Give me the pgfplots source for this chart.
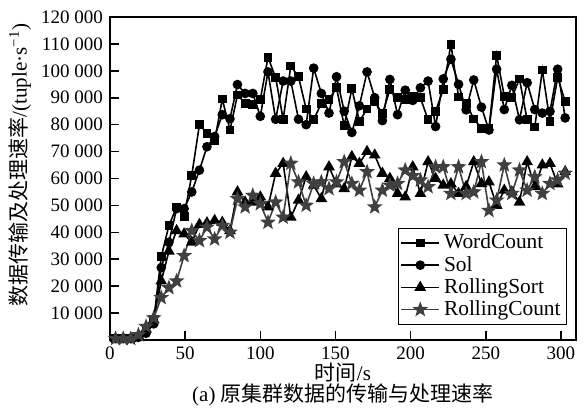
\documentclass[border=0pt]{standalone}
\usepackage{fontspec}
\setmainfont{Liberation Serif}
\newfontfamily\cjk{Noto Sans CJK SC}
\usepackage{pgfplots}
\usepackage{pgfplotstable}
\pgfplotsset{compat=1.18}
\definecolor{rcgray}{HTML}{404040}
\pgfdeclareplotmark{fstar}{%
  \pgfpathmoveto{\pgfpointpolar{90}{\pgfplotmarksize}}%
  \pgfpathlineto{\pgfpointpolar{126}{0.42\pgfplotmarksize}}%
  \pgfpathlineto{\pgfpointpolar{162}{\pgfplotmarksize}}%
  \pgfpathlineto{\pgfpointpolar{198}{0.42\pgfplotmarksize}}%
  \pgfpathlineto{\pgfpointpolar{234}{\pgfplotmarksize}}%
  \pgfpathlineto{\pgfpointpolar{270}{0.42\pgfplotmarksize}}%
  \pgfpathlineto{\pgfpointpolar{306}{\pgfplotmarksize}}%
  \pgfpathlineto{\pgfpointpolar{342}{0.42\pgfplotmarksize}}%
  \pgfpathlineto{\pgfpointpolar{18}{\pgfplotmarksize}}%
  \pgfpathlineto{\pgfpointpolar{54}{0.42\pgfplotmarksize}}%
  \pgfpathclose
  \pgfusepathqfillstroke
}
\pgfplotstableread{
t W S R C
3.7 500 500 500 500
8.8 500 500 500 500
13.8 500 500 500 500
18.9 1500 1000 1500 1900
24.0 3500 2500 4000 5000
29.1 7500 6000 7500 8200
34.1 31000 26900 21900 15700
39.2 42500 36300 33000 19400
44.3 49400 48800 40600 21900
49.3 46000 48800 39400 31300
54.4 61200 55000 36300 40600
59.5 80000 63100 42900 36900
64.5 76800 71800 43500 41900
69.6 74000 75600 44400 37500
74.7 89500 83700 43700 42500
79.8 78000 82200 40600 40000
84.8 91000 94900 55000 52500
89.9 88000 91600 51200 49400
95.0 87500 91600 51200 53700
100.0 89300 83100 53100 50600
105.1 105000 99600 49400 43700
110.2 97500 82000 61900 51200
115.2 82000 96200 65600 45600
120.3 101800 96200 45600 65600
125.4 97800 82000 51900 58700
130.5 85800 80000 60600 50000
135.5 82000 101000 57500 58100
140.6 87800 91600 52500 58700
145.7 89300 84300 64300 56200
150.7 93700 97800 58000 58700
155.8 79600 85000 56200 66200
160.9 93300 77100 68100 58100
165.9 81200 87000 65600 55600
171.0 85800 99600 70000 62500
176.1 88700 90000 68700 49400
181.2 84000 81500 61900 55600
186.2 93000 96800 60000 57500
191.3 90000 83700 54400 58100
196.4 89300 92800 53100 63100
201.4 90600 89000 64300 61000
206.5 90000 93700 54400 59400
211.6 81800 96200 66200 56900
216.6 85000 79300 60000 64300
221.7 93000 97000 57500 64300
226.8 109900 104300 58000 54400
231.9 90300 95000 54400 64300
236.9 88000 85500 57000 54400
242.0 82100 96600 66200 55000
247.1 78700 86500 58100 66200
252.1 78500 78000 58700 48100
257.2 105800 100600 50000 51900
262.3 90600 85600 55600 65000
267.3 90000 94600 55000 54400
272.4 97000 81800 51200 63100
277.5 81800 95600 66200 55600
282.6 79100 85600 56900 60600
287.6 100300 84300 65000 54400
292.7 81200 84900 65600 58100
297.8 97500 100600 58000 59400
302.8 88700 82500 62500 61900
}\datatable
\begin{document}
\begin{tikzpicture}
\begin{axis}[
  scale only axis,
  width=233pt, height=161.5pt,
  xmin=0, xmax=310, ymin=0, ymax=120000,
  xtick={0,50,...,300},
  ytick={10000,20000,...,120000},
  xtick pos=bottom, ytick pos=left,
  tick align=inside,
  scaled ticks=false,
  /pgf/number format/fixed,
  /pgf/number format/precision=0,
  /pgf/number format/1000 sep={\ },
  /pgf/number format/assume math mode=true,
  tick label style={font=\fontsize{9.5}{11}\selectfont},
  axis line style={line width=0.9pt},
  major tick style={line width=0.8pt, black},
  major tick length=4.5pt,
  label style={font=\fontsize{10.5}{12}\selectfont},
  xlabel={{\cjk 时间}/s},
  xlabel style={at={(axis description cs:0.5,0)}, anchor=center, yshift=-16.5pt},
  ylabel={{\cjk 数据传输及处理速率}/(tuple·s\textsuperscript{−1})},
  ylabel style={at={(axis description cs:-0.193,0.542)}, anchor=center},
  legend image code/.code={%
    \draw[mark repeat=2,mark phase=2,#1] plot coordinates {(0pt,0pt) (9.5pt,0pt) (19pt,0pt)};},
  legend style={at={(1,0)}, anchor=south east, xshift=-4.5pt, yshift=7.5pt,
    font=\fontsize{10.7}{11}\selectfont, draw=black, inner sep=1pt, row sep=-1.8pt,
    nodes={inner xsep=2pt}},
  legend cell align=left,
]
\addplot[black, line width=0.8pt, mark=square*, mark size=1.8pt, mark options={solid}] table[x=t,y=W]{\datatable};
\addlegendentry{WordCount}
\addplot[black, line width=0.8pt, mark=*, mark size=2pt, mark options={solid}] table[x=t,y=S]{\datatable};
\addlegendentry{Sol}
\addplot[black, line width=0.8pt, mark=triangle*, mark size=2.6pt, mark options={solid}] table[x=t,y=R]{\datatable};
\addlegendentry{RollingSort}
\addplot[rcgray, line width=0.8pt, mark=fstar, mark size=3pt, mark options={solid, fill=rcgray}] table[x=t,y=C]{\datatable};
\addlegendentry{RollingCount}
\end{axis}
\node[font=\fontsize{10.5}{12}\selectfont, anchor=center] at ([yshift=-27.3pt]current axis.south) {(a) {\cjk 原集群数据的传输与处理速率}};
\pgfresetboundingbox
\path[use as bounding box] ([xshift=-55pt,yshift=-35.5pt]current axis.south west) rectangle ++(293pt,205.5pt);
\end{tikzpicture}
\end{document}
